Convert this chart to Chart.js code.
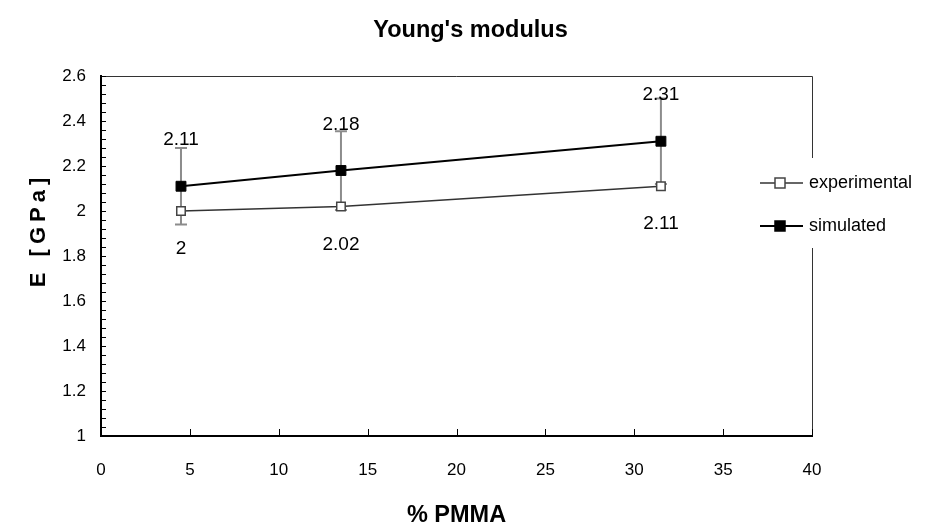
<!DOCTYPE html>
<html>
<head>
<meta charset="utf-8">
<script src="https://cdn.jsdelivr.net/npm/chart.js@4.4.1/dist/chart.umd.min.js"></script>
<style>
  html, body { margin: 0; padding: 0; background: #fff; }
  #wrap { width: 941px; height: 532px; }
</style>
</head>
<body>
<div id="wrap"><canvas id="chart" width="941" height="532"></canvas></div>
<script>
// data
var pmma = [4.5, 13.5, 31.5];
var experimental = [2.0, 2.02, 2.11];
var simulated = [2.11, 2.18, 2.31];
var simulatedErr = [0.17, 0.175, 0.19];
var yTicks = [1, 1.2, 1.4, 1.6, 1.8, 2, 2.2, 2.4, 2.6];
var xTicks = [0, 5, 10, 15, 20, 25, 30, 35, 40];

var FONT = "'Liberation Sans', Arial, sans-serif";
var TITLE = "Young's modulus";

function toPoints(xs, ys) {
    var out = [];
    for (var i = 0; i < xs.length; i++) out.push({x: xs[i], y: ys[i]});
    return out;
}

// error bars, inward ticks, frame, labels, legend
var decorations = {
    id: 'decorations',
    beforeDatasetsDraw: function (chart) {
        var ctx = chart.ctx, a = chart.chartArea;
        var xs = chart.scales.x, ys = chart.scales.y;
        ctx.save();
        // top / right frame
        ctx.strokeStyle = '#333';
        ctx.lineWidth = 1;
        ctx.beginPath();
        ctx.moveTo(a.left, a.top + 0.5);
        ctx.lineTo(a.right + 0.5, a.top + 0.5);
        ctx.lineTo(a.right + 0.5, a.bottom);
        ctx.stroke();

        // minor + major ticks on y, inside
        ctx.strokeStyle = '#000';
        ctx.lineWidth = 1;
        for (var v = 1; v <= 2.6001; v += 0.04) {
            var py = Math.round(ys.getPixelForValue(v)) + 0.5;
            ctx.beginPath();
            ctx.moveTo(a.left, py);
            ctx.lineTo(a.left + 5, py);
            ctx.stroke();
        }
        // major ticks on x, inside
        xTicks.forEach(function (t) {
            var px = Math.round(xs.getPixelForValue(t)) + 0.5;
            ctx.beginPath();
            ctx.moveTo(px, a.bottom);
            ctx.lineTo(px, a.bottom - 7);
            ctx.stroke();
        });

        // error bars on simulated
        ctx.strokeStyle = '#8c8c8c';
        ctx.lineWidth = 2;
        for (var i = 0; i < pmma.length; i++) {
            var x = xs.getPixelForValue(pmma[i]);
            var yt = ys.getPixelForValue(simulated[i] + simulatedErr[i]);
            var yb = ys.getPixelForValue(simulated[i] - simulatedErr[i]);
            ctx.beginPath();
            ctx.moveTo(x, yt); ctx.lineTo(x, yb);
            ctx.moveTo(x - 6, yt); ctx.lineTo(x + 6, yt);
            ctx.moveTo(x - 6, yb); ctx.lineTo(x + 6, yb);
            ctx.stroke();
        }
        ctx.restore();
    },
    afterDatasetsDraw: function (chart) {
        var ctx = chart.ctx, a = chart.chartArea;
        var xs = chart.scales.x, ys = chart.scales.y;
        ctx.save();
        ctx.fillStyle = '#000';
        ctx.font = '19px ' + FONT;
        ctx.textAlign = 'center';
        ctx.textBaseline = 'middle';
        for (var i = 0; i < pmma.length; i++) {
            var x = xs.getPixelForValue(pmma[i]);
            ctx.fillText(String(simulated[i]), x, ys.getPixelForValue(simulated[i]) - 46);
            ctx.fillText(String(experimental[i]), x, ys.getPixelForValue(experimental[i]) + 38);
        }

        // chart title and axis titles
        ctx.font = 'bold 23.5px ' + FONT;
        ctx.fillText(TITLE, chart.width / 2, 31);
        ctx.fillText('% PMMA', (a.left + a.right) / 2, 516);
        ctx.save();
        ctx.font = 'bold 22px ' + FONT;
        ctx.translate(39, 232);
        ctx.rotate(-Math.PI / 2);
        ctx.letterSpacing = '5px';
        ctx.fillText('E [GPa]', 2, 0);
        ctx.restore();

        // legend
        ctx.fillStyle = '#fff';
        ctx.fillRect(754, 158, 180, 90);
        var items = [
            {label: chart.data.datasets[0].label, y: 183, fill: '#fff', stroke: '#444', line: '#333', w: 1.5},
            {label: chart.data.datasets[1].label, y: 226, fill: '#000', stroke: '#000', line: '#000', w: 2}
        ];
        items.forEach(function (it) {
            ctx.strokeStyle = it.line;
            ctx.lineWidth = it.w;
            ctx.beginPath();
            ctx.moveTo(760, it.y); ctx.lineTo(803, it.y);
            ctx.stroke();
            ctx.fillStyle = it.fill;
            ctx.fillRect(775, it.y - 5, 10, 10);
            ctx.strokeStyle = it.stroke;
            ctx.lineWidth = 1.5;
            ctx.strokeRect(775, it.y - 5, 10, 10);
            ctx.fillStyle = '#000';
            ctx.font = '18px ' + FONT;
            ctx.textAlign = 'left';
            ctx.fillText(it.label, 809, it.y);
        });
        ctx.restore();
    }
};

var ctx = document.getElementById('chart').getContext('2d');

new Chart(ctx, {
    type: 'scatter',
    data: {
        datasets: [
            {
                label: 'experimental',
                data: toPoints(pmma, experimental),
                showLine: true,
                borderColor: '#333',
                borderWidth: 1.5,
                pointStyle: 'rect',
                pointRadius: 6,
                pointBackgroundColor: '#fff',
                pointBorderColor: '#444',
                pointBorderWidth: 1.5
            },
            {
                label: 'simulated',
                data: toPoints(pmma, simulated),
                showLine: true,
                borderColor: '#000',
                borderWidth: 2,
                pointStyle: 'rect',
                pointRadius: 7,
                pointBackgroundColor: '#000',
                pointBorderColor: '#000',
                pointBorderWidth: 1
            }
        ]
    },
    options: {
        responsive: false,
        animation: false,
        layout: { padding: { left: 0, right: 129, top: 76, bottom: 0 } },
        plugins: {
            legend: { display: false },
            tooltip: { enabled: false },
            title: { display: false }
        },
        scales: {
            x: {
                type: 'linear',
                min: 0, max: 40,
                afterBuildTicks: function (s) { s.ticks = xTicks.map(function (v) { return {value: v}; }); },
                afterFit: function (s) { s.height = 96; },
                grid: { display: false, drawTicks: false },
                border: { display: true, color: '#000', width: 2 },
                ticks: { color: '#000', padding: 24, maxRotation: 0, font: { family: FONT, size: 17 },
                         callback: function (v) { return String(v); } }
            },
            y: {
                type: 'linear',
                min: 1, max: 2.6,
                afterBuildTicks: function (s) { s.ticks = yTicks.map(function (v) { return {value: v}; }); },
                afterFit: function (s) { s.width = 101; },
                grid: { display: false, drawTicks: false },
                border: { display: true, color: '#000', width: 2 },
                ticks: { color: '#000', padding: 15, font: { family: FONT, size: 17 },
                         callback: function (v) { return String(v); } }
            }
        }
    },
    plugins: [decorations]
});
</script>
</body>
</html>
